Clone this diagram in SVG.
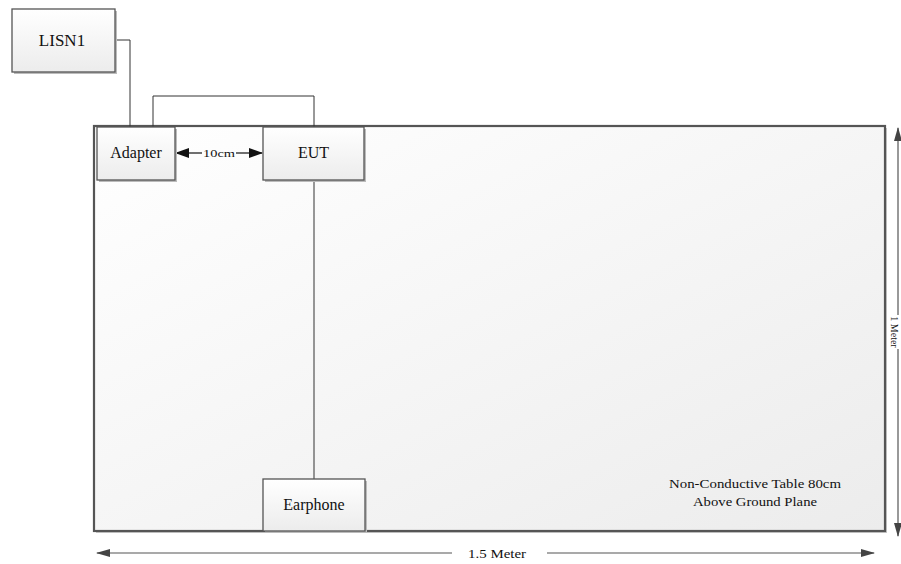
<svg xmlns="http://www.w3.org/2000/svg" width="901" height="564" viewBox="0 0 901 564">
<defs>
<linearGradient id="boxg" x1="0" y1="0" x2="0" y2="1">
<stop offset="0" stop-color="#ffffff"/>
<stop offset="1" stop-color="#ececec"/>
</linearGradient>
<linearGradient id="tableg" x1="0" y1="0" x2="1" y2="1">
<stop offset="0" stop-color="#ffffff"/>
<stop offset="1" stop-color="#ececec"/>
</linearGradient>
<marker id="ah" markerWidth="14" markerHeight="8" refX="13" refY="4" orient="auto-start-reverse" markerUnits="userSpaceOnUse">
<path d="M0,0 L14,4 L0,8 Z" fill="#444"/>
</marker>
<marker id="ahs" markerWidth="14" markerHeight="10" refX="13" refY="5" orient="auto-start-reverse" markerUnits="userSpaceOnUse">
<path d="M0,0 L14,5 L0,10 Z" fill="#111"/>
</marker>
</defs>
<style>
.box{fill:url(#boxg);stroke:#555;stroke-width:1.3}
.shadow{fill:#bbb}
.wire{fill:none;stroke:#333;stroke-width:1}
.dim{fill:none;stroke:#555;stroke-width:1.2}
text{font-family:"Liberation Serif","Times New Roman",serif;fill:#111;text-anchor:middle}
</style>
<g id="table">
<rect x="96" y="128" width="791" height="405" fill="#c8c8c8"/>
<rect x="94" y="126" width="791" height="405" fill="url(#tableg)" stroke="#555" stroke-width="2.2"/>
<text x="755" y="488" font-family="Liberation Serif" font-size="13" textLength="172" lengthAdjust="spacingAndGlyphs">Non-Conductive Table 80cm</text>
<text x="755" y="506" font-family="Liberation Serif" font-size="13" textLength="124" lengthAdjust="spacingAndGlyphs">Above Ground Plane</text>
</g>
<g id="connectors">
<polyline class="wire" points="115,40 130,40 130,127"/>
<polyline class="wire" points="153,127 153,96 314,96 314,127"/>
<line class="wire" x1="314" y1="180" x2="314" y2="479"/>
<line x1="176" y1="153" x2="202" y2="153" stroke="#111" stroke-width="1.2" marker-start="url(#ahs)"/>
<line x1="236" y1="153" x2="262" y2="153" stroke="#111" stroke-width="1.2" marker-end="url(#ahs)"/>
<text x="219" y="156.5" font-family="Liberation Serif" font-size="11" textLength="32" lengthAdjust="spacingAndGlyphs">10cm</text>
<line class="dim" x1="97" y1="553" x2="452" y2="553" marker-start="url(#ah)"/>
<line class="dim" x1="547" y1="553" x2="874" y2="553" marker-end="url(#ah)"/>
<text x="497" y="557.5" font-family="Liberation Serif" font-size="13" textLength="58" lengthAdjust="spacingAndGlyphs">1.5 Meter</text>
<line class="dim" x1="898" y1="128" x2="898" y2="315" marker-start="url(#ah)"/>
<line class="dim" x1="898" y1="349" x2="898" y2="536" marker-end="url(#ah)"/>
<text transform="translate(891,332) rotate(90)" font-family="Liberation Serif" font-size="10">1 Meter</text>
</g>
<g id="lisn1">
<rect class="shadow" x="14" y="11" width="103" height="63"/>
<rect class="box" x="12" y="9" width="103" height="63"/>
<text x="62" y="46" font-family="Liberation Serif" font-size="17">LISN1</text>
</g>
<g id="adapter">
<rect class="shadow" x="99" y="129" width="78" height="53"/>
<rect class="box" x="97" y="127" width="78" height="53"/>
<text x="136" y="158" font-family="Liberation Serif" font-size="16">Adapter</text>
</g>
<g id="eut">
<rect class="shadow" x="265" y="129" width="101" height="53"/>
<rect class="box" x="263" y="127" width="101" height="53"/>
<text x="313.5" y="158" font-family="Liberation Serif" font-size="16">EUT</text>
</g>
<g id="earphone">
<rect class="shadow" x="265" y="481" width="102" height="52"/>
<rect class="box" x="263" y="479" width="102" height="52"/>
<text x="314" y="510" font-family="Liberation Serif" font-size="16">Earphone</text>
</g>
</svg>
